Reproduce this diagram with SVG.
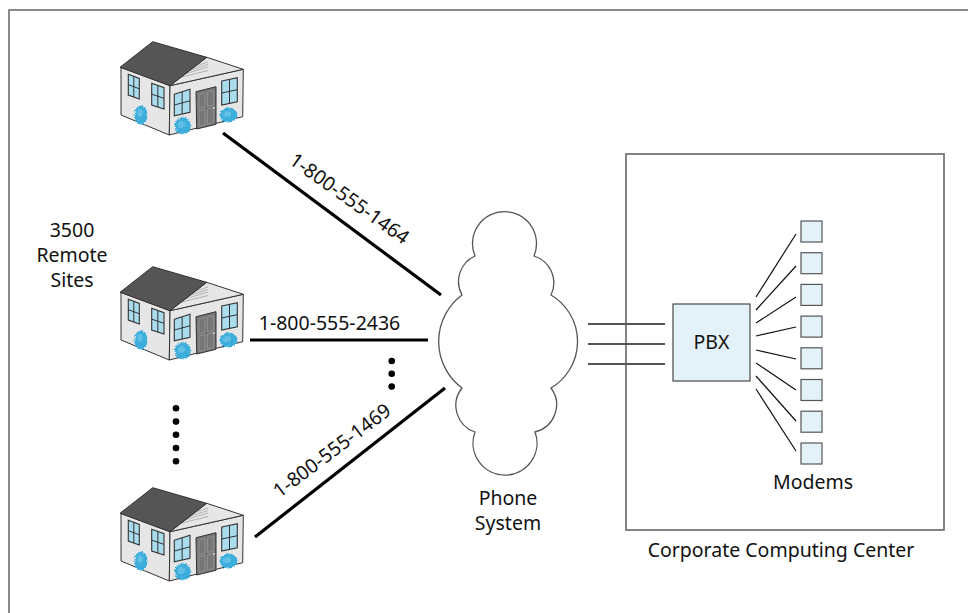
<svg xmlns="http://www.w3.org/2000/svg" xmlns:xlink="http://www.w3.org/1999/xlink" width="968" height="613" viewBox="0 0 968 613">
  <style>
    .lbl{font-family:"Noto Sans","Open Sans","Liberation Sans",sans-serif;font-size:19.5px;fill:#111}
    .mid{text-anchor:middle}
    .trunk{stroke:#000;stroke-width:3.2;fill:none}
    .feed{stroke:#555;stroke-width:1.8;fill:none}
    .port{stroke:#111;stroke-width:1.2;fill:none}
    .modem{fill:#e3f2f9;stroke:#555;stroke-width:1.2}
    .box{fill:none;stroke:#777;stroke-width:1.8}
    .dot{fill:#000}
    .wall{fill:#e6e6e6;stroke:#333;stroke-width:1;stroke-linejoin:round}
    .roof{fill:#555;stroke:#333;stroke-width:1;stroke-linejoin:round}
    .win{fill:#a9dced;stroke:#333;stroke-width:1.1}
    .mull{stroke:#333;stroke-width:1;fill:none}
    .bush{fill:#3eaedb}
  </style>
  <defs>
    <filter id="fuzz" x="-40%" y="-40%" width="180%" height="180%">
      <feTurbulence type="fractalNoise" baseFrequency="1.1" numOctaves="2" result="n"/>
      <feDisplacementMap in="SourceGraphic" in2="n" scale="4" xChannelSelector="R" yChannelSelector="G"/>
    </filter>
    <!-- small gabled house, drawn at its own origin -->
    <g id="house">
      <polygon class="wall" points="11,32.3 60,50.7 59.3,100 11,80"/>
      <polygon class="wall" points="60,50.7 133.3,34.3 132.7,81.7 59.3,100"/>
      <polygon class="wall" points="60,50.7 96.7,22.3 133.3,34.3"/>
      <g stroke="#9a9a9a" stroke-width="0.7">
        <line x1="71" y1="42.2" x2="98" y2="35.5"/>
        <line x1="75.5" y1="38.7" x2="98" y2="32"/>
        <line x1="80" y1="35.2" x2="98" y2="29.5"/>
        <line x1="85" y1="31.3" x2="98" y2="27"/>
      </g>
      <polygon class="roof" points="10,32.3 42.7,6.7 96.7,22.3 60,50.7"/>
      <!-- windows, long wall -->
      <polygon class="win" points="18.3,39.3 29.3,43.5 29.3,64 18.3,60"/>
      <path class="mull" d="M23.8,41.4 L23.8,62 M18.3,49.65 L29.3,53.75"/>
      <polygon class="win" points="41.7,48.3 54,52.7 54,74 41.7,70"/>
      <path class="mull" d="M47.85,50.5 L47.85,72 M41.7,59.15 L54,63.35"/>
      <!-- windows and door, gable wall -->
      <polygon class="win" points="64.3,59.3 80,54.3 80,77.3 64.3,80.7"/>
      <path class="mull" d="M72.15,56.8 L72.15,79 M64.3,70 L80,65.8"/>
      <polygon points="86,56.7 106,51.7 106,89.3 86.7,94" fill="#777" stroke="#333" stroke-width="1"/>
      <path d="M89,59 L95,57.6 L95,72 L89,73.5 Z M97.5,57 L103.5,55.5 L103.5,70 L97.5,71.5 Z M89,76 L95,74.5 L95,90 L89,91.5 Z M97.5,74 L103.5,72.5 L103.5,87.5 L97.5,89 Z" fill="none" stroke="#9a9a9a" stroke-width="0.7"/>
      <circle cx="104" cy="73" r="0.9" fill="#ddd"/>
      <polygon class="win" points="111.7,46 127.3,42.7 127.3,66.7 111.7,70"/>
      <path class="mull" d="M119.5,44.35 L119.5,68.35 M111.7,58 L127.3,54.7"/>
      <!-- shrubs -->
      <g filter="url(#fuzz)">
        <ellipse class="bush" cx="31" cy="80" rx="6.5" ry="9.5"/>
        <ellipse class="bush" cx="72.7" cy="91" rx="8" ry="8.5"/>
        <ellipse class="bush" cx="118.5" cy="80" rx="9" ry="7.5"/>
        <ellipse cx="30" cy="78" rx="2.5" ry="4" fill="#62c0e6"/>
        <ellipse cx="71.5" cy="89.5" rx="3.5" ry="3.5" fill="#62c0e6"/>
        <ellipse cx="117" cy="79" rx="4" ry="3" fill="#62c0e6"/>
      </g>
    </g>
  </defs>

  <rect width="968" height="613" fill="#fff"/>
  <rect x="9" y="10" width="1000" height="700" fill="none" stroke="#666" stroke-width="1.5"/>

  <!-- remote sites -->
  <g id="site-1"><use xlink:href="#house" href="#house" transform="translate(110,35)"/></g>
  <g id="site-2"><use xlink:href="#house" href="#house" transform="translate(110,260)"/></g>
  <g id="site-3"><use xlink:href="#house" href="#house" transform="translate(110,481)"/></g>
  <g id="sites-label">
    <text class="lbl mid" x="72" y="237">3500</text>
    <text class="lbl mid" x="72" y="262">Remote</text>
    <text class="lbl mid" x="72" y="287">Sites</text>
  </g>
  <g id="sites-ellipsis">
    <circle class="dot" cx="176" cy="408.3" r="3.3"/>
    <circle class="dot" cx="176" cy="421.6" r="3.3"/>
    <circle class="dot" cx="176" cy="434.8" r="3.3"/>
    <circle class="dot" cx="176" cy="448" r="3.3"/>
    <circle class="dot" cx="176" cy="461.2" r="3.3"/>
  </g>

  <!-- public phone network -->
  <g id="phone-system">
    <path d="M475,256 A32,32 0 1 1 534,256 A28,28 0 0 1 551,295 A54,54 0 0 1 551,388 A28,28 0 0 1 535,432 A32,32 0 1 1 475,432 A28,28 0 0 1 462,388 A58,58 0 0 1 462,295 A28,28 0 0 1 475,256 Z" fill="#fff" stroke="#555" stroke-width="1.3"/>
    <text class="lbl mid" x="508" y="505">Phone</text>
    <text class="lbl mid" x="508" y="530">System</text>
  </g>

  <!-- corporate site -->
  <g id="computing-center">
    <rect class="box" x="626" y="154" width="318" height="376"/>
    <text class="lbl mid" x="781" y="557">Corporate Computing Center</text>
  </g>
  <g id="pbx">
    <rect x="673" y="304" width="77" height="77" fill="#e3f2f9" stroke="#555" stroke-width="1.3"/>
    <text class="lbl mid" x="711.5" y="349">PBX</text>
  </g>
  <g id="modems">
    <rect class="modem" x="801" y="221" width="21" height="21"/>
    <rect class="modem" x="801" y="252.7" width="21" height="21"/>
    <rect class="modem" x="801" y="284.4" width="21" height="21"/>
    <rect class="modem" x="801" y="316.1" width="21" height="21"/>
    <rect class="modem" x="801" y="347.8" width="21" height="21"/>
    <rect class="modem" x="801" y="379.5" width="21" height="21"/>
    <rect class="modem" x="801" y="411.2" width="21" height="21"/>
    <rect class="modem" x="801" y="443" width="21" height="21"/>
    <text class="lbl mid" x="813" y="489">Modems</text>
  </g>

  <!-- connectors -->
  <g id="connectors">
    <line class="trunk" x1="223" y1="133" x2="441" y2="295"/>
    <line class="trunk" x1="250" y1="340" x2="428" y2="340"/>
    <line class="trunk" x1="255" y1="537" x2="445" y2="388"/>
    <text class="lbl mid" transform="translate(345.5,204) rotate(35.5)">1-800-555-1464</text>
    <text class="lbl mid" x="329.5" y="330">1-800-555-2436</text>
    <text class="lbl mid" transform="translate(336,456) rotate(-37)">1-800-555-1469</text>
    <circle class="dot" cx="391.7" cy="361" r="3.3"/>
    <circle class="dot" cx="391.7" cy="373.8" r="3.3"/>
    <circle class="dot" cx="391.7" cy="386.6" r="3.3"/>

    <line class="feed" x1="588" y1="324" x2="665" y2="324"/>
    <line class="feed" x1="588" y1="344" x2="665" y2="344"/>
    <line class="feed" x1="588" y1="364" x2="665" y2="364"/>

    <line class="port" x1="756" y1="297" x2="796" y2="234"/>
    <line class="port" x1="756" y1="310" x2="796" y2="266"/>
    <line class="port" x1="756" y1="323" x2="796" y2="297"/>
    <line class="port" x1="756" y1="336" x2="796" y2="327"/>
    <line class="port" x1="756" y1="350" x2="796" y2="359"/>
    <line class="port" x1="756" y1="363" x2="796" y2="390"/>
    <line class="port" x1="756" y1="376" x2="796" y2="421"/>
    <line class="port" x1="756" y1="389" x2="796" y2="451"/>
  </g>
</svg>
